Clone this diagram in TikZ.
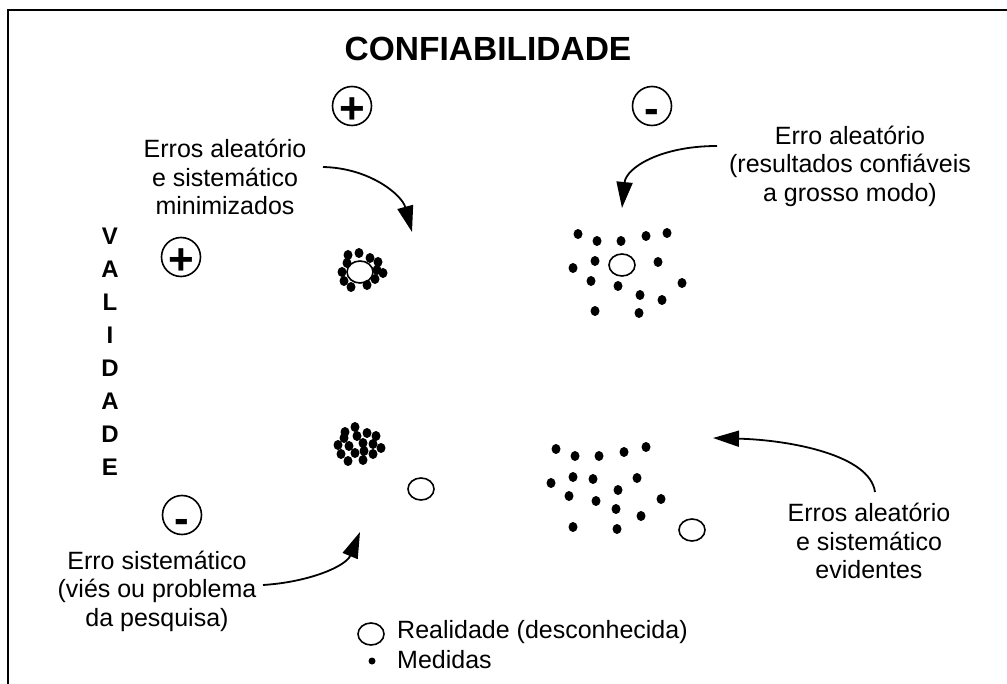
\documentclass[tikz,border=0pt]{standalone}
\usepackage{fontspec}
\setmainfont{Liberation Sans}
\usetikzlibrary{arrows.meta,shapes.geometric}
\begin{document}
\begin{tikzpicture}[x=1pt,y=-1pt,
		every node/.style={font=\fontsize{25}{28.5}\selectfont},
		txt/.style={align=center,inner sep=0pt},
		ring/.style={ellipse,draw,line width=1.6pt,minimum width=26pt,minimum height=22pt,inner sep=0pt},
		dot/.style={ellipse,fill,minimum width=9pt,minimum height=10pt,inner sep=0pt},
		sign/.style={circle,draw,line width=1.6pt,minimum size=39pt,inner sep=0pt},
		signtxt/.style={anchor=base,inner sep=0pt,font=\fontsize{44}{44}\selectfont\bfseries},
		curvearrow/.style={line width=1.8pt,-{Triangle[length=26pt,width=16pt]}}]
\useasboundingbox (0,0) rectangle (1007,684);
\draw[line width=2.2pt] (8,684) -- (8,10) -- (1007,10);
\node (titulo) at (488,49) {\fontsize{33.5}{33.5}\selectfont\bfseries CONFIABILIDADE};
\node[align=center,inner sep=0pt,font=\fontsize{24}{33}\selectfont\bfseries] (validade) at (110,352) {V\\A\\L\\I\\D\\A\\D\\E};
\node[sign] (cmais) at (352,106) {};
\node[signtxt] at ([yshift=-18pt]cmais.center) {+};
\node[sign] (cmenos) at (652,106) {};
\node[signtxt] at ([yshift=-18pt]cmenos.center) {-};
\node[sign] (vmais) at (181,257) {};
\node[signtxt] at ([yshift=-18pt]vmais.center) {+};
\node[sign] (vmenos) at (182,515) {};
\node[signtxt] at ([yshift=-18pt]vmenos.center) {-};
\node[txt] (minim) at (225,177) {Erros aleatório\\e sistemático\\minimizados};
\node[txt] (aleat) at (850,166) {Erro aleatório\\(resultados confiáveis\\a grosso modo)};
\node[txt] (sistem) at (157,591) {Erro sistemático\\(viés ou problema\\da pesquisa)};
\node[txt] (evid) at (869,541) {Erros aleatório\\e sistemático\\evidentes};
\node[ring] (r1) at (360,272) {};
\foreach \x/\y in {348/255,359/253,370/258,378/262,347/263,342/272,377/270,383/273,344/281,375/279,367/285,351/287}
	\node[dot] at (\x,\y) {};
\node[ring] (r2) at (622,265) {};
\foreach \x/\y in {578/234,597/241,621/241,646/236,667/233,595/261,573/268,658/262,591/281,618/286,682/283,640/295,662/300,595/311,639/313}
	\node[dot] at (\x,\y) {};
\node[ring] (r3) at (421,489) {};
\foreach \x/\y in {355/427,345/432,357/436,367/433,376/436,344/438,338/445,349/446,363/443,373/444,381/448,355/453,364/451,373/454,341/454,348/461,363/460}
	\node[dot] at (\x,\y) {};
\node[ring] (r4) at (692,530) {};
\foreach \x/\y in {556/449,575/456,599/456,624/452,646/447,551/483,573/477,593/479,637/478,618/490,569/496,596/501,661/499,616/509,641/516,573/527,617/529}
	\node[dot] at (\x,\y) {};
\node[ring] (lreal) at (371,634) {};
\node[anchor=west,inner sep=0pt] (treal) at (397,632) {Realidade (desconhecida)};
\node[dot,minimum width=7pt,minimum height=7pt] (lmed) at (372,661) {};
\node[anchor=west,inner sep=0pt] (tmed) at (397,660) {Medidas};
\coordinate (a1) at (323,167);
\coordinate (t1) at (412,232);
\coordinate (a2) at (717,146);
\coordinate (t2) at (622,208);
\coordinate (a3) at (263,585);
\coordinate (t3) at (360,532);
\coordinate (a4) at (875,492);
\coordinate (t4) at (713,438);
\draw[curvearrow] (a1) .. controls (370,168) and (402,195) .. (t1);
\draw[curvearrow] (a2) .. controls (660,146) and (626,168) .. (t2);
\draw[curvearrow] (a3) .. controls (310,582) and (346,566) .. (t3);
\draw[curvearrow] (a4) .. controls (870,455) and (790,440) .. (t4);
\end{tikzpicture}
\end{document}
